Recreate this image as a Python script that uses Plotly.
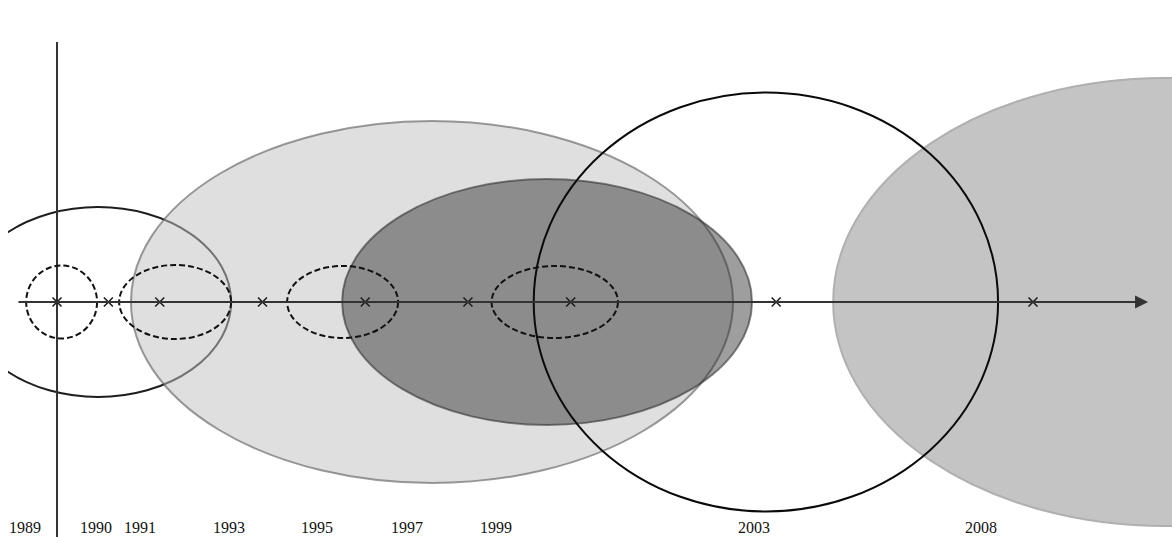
import plotly.graph_objects as go

# ---- data ----
years = [1989, 1990, 1991, 1993, 1995, 1997, 1999, 2003, 2008]
year_labels = ["1989", "1990", "1991", "1993", "1995", "1997", "1999", "2003", "2008"]
label_x = [1988.38, 1989.76, 1990.62, 1992.35, 1994.07, 1995.82, 1997.55, 2002.57, 2006.99]

# filled / solid ellipses: center (year), x radius (years), y radius (units)
solid_names = ["right_grey", "left_outline", "light_grey", "dark_grey", "black_circle"]
solid_cx = [2010.57, 1989.80, 1996.30, 1998.54, 2002.80]
solid_rx = [6.46, 2.59, 5.86, 3.99, 4.52]
solid_ry = [224, 95, 181, 123, 209.5]

# dashed ellipses
dash_cx = [1989.09, 1991.30, 1994.56, 1998.69]
dash_rx = [0.69, 1.09, 1.08, 1.23]
dash_ry = [36.5, 37, 36, 36]

styles = {
    "right_grey": dict(fill="#c4c4c4", line="#b0b0b0", width=2),
    "left_outline": dict(fill="rgba(0,0,0,0)", line="#1e1e1e", width=2),
    "light_grey": dict(fill="rgba(194,194,194,0.52)", line="rgba(90,90,90,0.6)", width=2),
    "dark_grey": dict(fill="rgba(40,40,40,0.45)", line="rgba(40,40,40,0.55)", width=2),
    "black_circle": dict(fill="rgba(0,0,0,0)", line="#0a0a0a", width=2),
}

fig = go.Figure()

shapes = []
for name, cx, rx, ry in zip(solid_names, solid_cx, solid_rx, solid_ry):
    st = styles[name]
    shapes.append(dict(type="circle", xref="x", yref="y", x0=cx - rx, x1=cx + rx,
                       y0=-ry, y1=ry, fillcolor=st["fill"],
                       line=dict(color=st["line"], width=st["width"]), layer="below"))

# vertical axis line
shapes.append(dict(type="line", xref="x", yref="y", x0=1989, x1=1989, y0=-240, y1=260,
                   line=dict(color="#333333", width=2), layer="below"))

for cx, rx, ry in zip(dash_cx, dash_rx, dash_ry):
    shapes.append(dict(type="circle", xref="x", yref="y", x0=cx - rx, x1=cx + rx,
                       y0=-ry, y1=ry, fillcolor="rgba(0,0,0,0)",
                       line=dict(color="#111111", width=2, dash="6px,3px"), layer="below"))

fig.update_layout(shapes=shapes)

# markers
fig.add_trace(go.Scatter(x=years, y=[0] * len(years), mode="markers",
                         marker=dict(symbol="x-thin", size=9,
                                     line=dict(color="#1a1a1a", width=1.5)),
                         hoverinfo="skip", showlegend=False))

annotations = []
# horizontal axis arrow
annotations.append(dict(x=2010.24, y=0, ax=1988.22, ay=0, xref="x", yref="y",
                        axref="x", ayref="y", showarrow=True, arrowhead=2,
                        arrowsize=1.3, arrowwidth=2, arrowcolor="#333333", text=""))
for lx, t in zip(label_x, year_labels):
    annotations.append(dict(x=lx, y=-225, xref="x", yref="y", text=t, showarrow=False,
                            font=dict(family="Liberation Serif", size=16, color="#111111")))
fig.update_layout(annotations=annotations)

fig.update_xaxes(range=[1988.046, 2010.706], visible=False, showgrid=False, zeroline=False)
fig.update_yaxes(range=[-235, 302], visible=False, showgrid=False, zeroline=False)
fig.update_layout(width=1172, height=537, margin=dict(l=8, r=0, t=0, b=0),
                  plot_bgcolor="white", paper_bgcolor="white")

fig.write_html("out.html", config={"displayModeBar": False},
               post_script="document.body.style.margin='0';document.body.style.overflow='hidden';")
